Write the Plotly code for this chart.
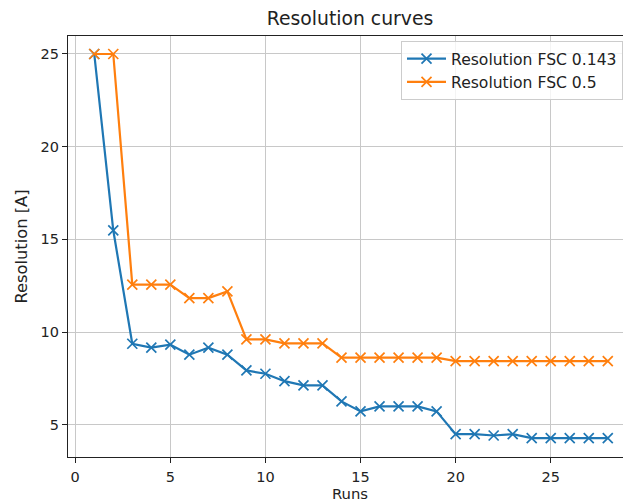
import plotly.graph_objects as go

runs = list(range(1, 29))
fsc_0143 = [25.0, 15.49, 9.37, 9.16, 9.32, 8.78, 9.16, 8.78, 7.93, 7.75,
            7.35, 7.12, 7.12, 6.26, 5.72, 5.99, 5.99, 5.99, 5.72, 4.49,
            4.49, 4.42, 4.49, 4.28, 4.28, 4.28, 4.28, 4.28]
fsc_05 = [25.0, 25.0, 12.56, 12.56, 12.56, 11.83, 11.83, 12.19, 9.60, 9.60,
          9.39, 9.39, 9.39, 8.62, 8.62, 8.62, 8.62, 8.62, 8.62, 8.43,
          8.43, 8.43, 8.43, 8.43, 8.43, 8.43, 8.43, 8.43]
series_names = ["Resolution FSC 0.143", "Resolution FSC 0.5"]
colors = ["#1f77b4", "#ff7f0e"]
x_ticks = [0, 5, 10, 15, 20, 25]
y_ticks = [5, 10, 15, 20, 25]

FONT = "DejaVu Sans"
TXT = "#222"
fig = go.Figure()
for i, (name, vals) in enumerate(zip(series_names, [fsc_0143, fsc_05])):
    fig.add_trace(go.Scatter(
        x=runs, y=vals, name=name, mode="lines+markers",
        line=dict(color=colors[i], width=2.2),
        marker=dict(symbol="x-thin", size=10, line=dict(color=colors[i], width=1.7)),
    ))

axis_common = dict(
    showgrid=True, gridcolor="#c8c8c8", gridwidth=1,
    zeroline=False, showline=True, linecolor=TXT, linewidth=1.2,
    ticks="outside", ticklen=5, tickcolor=TXT, tickwidth=1,
    tickfont=dict(family=FONT, size=14.5, color=TXT),
)
fig.update_layout(
    width=623, height=503,
    margin=dict(l=68, r=0, t=36, b=46),
    paper_bgcolor="white", plot_bgcolor="white",
    font=dict(family=FONT, color=TXT),
    title=dict(text="Resolution curves", x=350 / 623, xref="container", xanchor="center",
               y=1 - 18 / 503, yref="container", yanchor="middle",
               font=dict(family=FONT, size=18.8, color=TXT)),
    xaxis=dict(range=[-0.38, 28.8], tickvals=x_ticks, mirror=True,
               ticklabelstandoff=1, **axis_common),
    yaxis=dict(range=[3.26, 25.97], tickvals=y_ticks, mirror=False,
               title=dict(text="Resolution [A]", standoff=8,
                          font=dict(family=FONT, size=16.3, color=TXT)),
               **axis_common),
    legend=dict(x=(401 - 68) / 555, y=1 - (41 - 36) / 421, xanchor="left", yanchor="top",
                bgcolor="rgba(255,255,255,0.8)", bordercolor="#cccccc", borderwidth=1,
                font=dict(family=FONT, size=15.6, color=TXT),
                itemwidth=39, traceorder="normal"),
    showlegend=True,
    annotations=[dict(text="Runs", xref="paper", x=(350 - 68) / 555, yref="paper",
                      y=-(503 - 457) / 421, yanchor="bottom", showarrow=False,
                      borderpad=0, font=dict(family=FONT, size=14.8, color=TXT))],
)
fig.write_html("out.html")
